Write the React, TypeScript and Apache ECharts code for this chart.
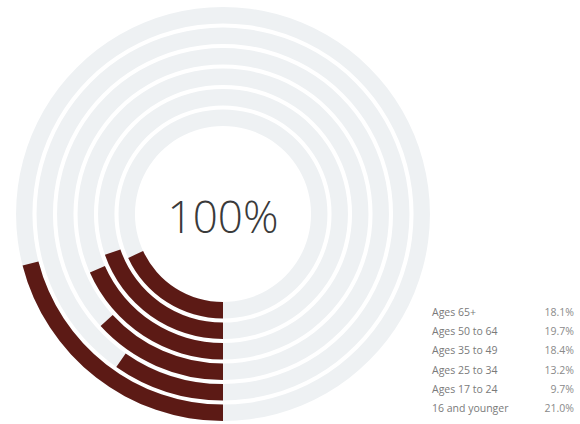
import React, { useEffect, useRef } from "react";
import * as echarts from "echarts";

// inner ring -> outer ring
const categories = [
  "Ages 65+",
  "Ages 50 to 64",
  "Ages 35 to 49",
  "Ages 25 to 34",
  "Ages 17 to 24",
  "16 and younger",
];
const values = [18.1, 19.7, 18.4, 13.2, 9.7, 21.0];
const valueLabels = ["18.1%", "19.7%", "18.4%", "13.2%", "9.7%", "21.0%"];
const centerLabel = "100%";

export default function App() {
  const ref = useRef<HTMLDivElement>(null);
  useEffect(() => {
    if (!ref.current) return;
    document.body.style.margin = "0";
    const chart = echarts.init(ref.current, undefined, { renderer: "svg" });
    const legendTexts: any[] = [];
    categories.forEach((c, i) => {
      const y = 312 + i * 19.2;
      legendTexts.push({
        type: "text",
        x: 432,
        y,
        style: {
          text: c,
          fill: "#7a7a7a",
          font: "10.5px 'Open Sans', sans-serif",
          textAlign: "left",
          textVerticalAlign: "middle",
        },
      });
      legendTexts.push({
        type: "text",
        x: 574,
        y,
        style: {
          text: valueLabels[i],
          fill: "#8a8a8a",
          font: "10.5px 'Open Sans', sans-serif",
          textAlign: "right",
          textVerticalAlign: "middle",
        },
      });
    });
    chart.setOption({
      animation: false,
      polar: { center: [223, 214], radius: [86, 209] },
      angleAxis: {
        type: "value",
        min: 0,
        max: 100,
        startAngle: 270,
        clockwise: true,
        show: false,
      },
      radiusAxis: {
        type: "category",
        data: categories,
        show: false,
      },
      series: [
        {
          type: "bar",
          coordinateSystem: "polar",
          data: values,
          barCategoryGap: "20%",
          showBackground: true,
          backgroundStyle: { color: "#eef1f3" },
          itemStyle: { color: "#5c1a15" },
          silent: true,
        },
      ],
      graphic: [
        {
          type: "text",
          x: 223,
          y: 216,
          style: {
            text: centerLabel,
            fill: "#3a3a3a",
            font: "200 44px 'Open Sans', sans-serif",
            textAlign: "center",
            textVerticalAlign: "middle",
          },
        },
        ...legendTexts,
      ],
    });
    return () => chart.dispose();
  }, []);
  return <div ref={ref} style={{ width: 580, height: 424 }} />;
}
